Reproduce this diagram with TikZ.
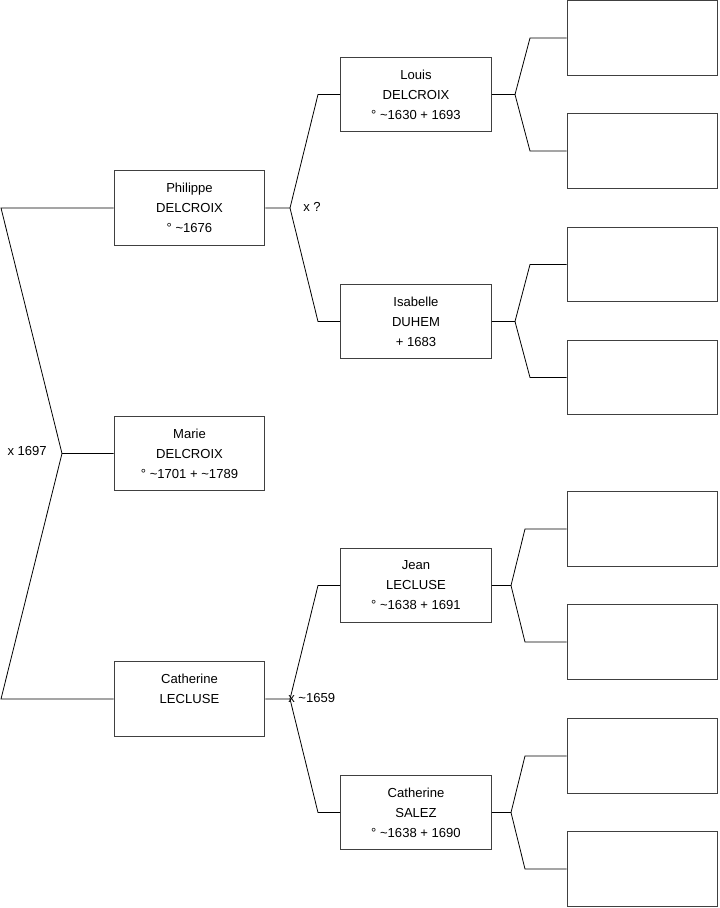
\documentclass[tikz,border=0pt]{standalone}
\usepackage{fontspec}
\setmainfont{Liberation Sans}
\usetikzlibrary{positioning}

\begin{document}
\begin{tikzpicture}[
    x=0.75pt, y=-0.75pt,
    person/.style={rectangle, draw=black!75, line width=0.8pt, fill=white, minimum width=113pt, minimum height=56pt, font=\fontsize{9.8}{15}\selectfont, align=center, inner sep=0pt},
    ancestor/.style={rectangle, draw=black!75, line width=0.8pt, fill=white, minimum width=113pt, minimum height=56pt},
    union/.style={font=\fontsize{9.8}{11}\selectfont, inner sep=0pt},
    link/.style={draw=black, line width=0.6pt}
]

% Page frame
\useasboundingbox[fill=white] (0,0) rectangle (719,908);

% Generation 1
\node[person] (marie)    at (189.5,453.5) {Marie\\DELCROIX\\° \textasciitilde 1701 + \textasciitilde 1789};

% Generation 2
\node[person] (philippe) at (189.5,208)   {Philippe\\DELCROIX\\° \textasciitilde 1676};
\node[person] (cathl)    at (189.5,699)   {Catherine\\LECLUSE\\\mbox{}};

% Generation 3
\node[person] (louis)    at (416,94.5)    {Louis\\DELCROIX\\° \textasciitilde 1630 + 1693};
\node[person] (isabelle) at (416,321.5)   {Isabelle\\DUHEM\\+ 1683};
\node[person] (jean)     at (416,585.5)   {Jean\\LECLUSE\\° \textasciitilde 1638 + 1691};
\node[person] (caths)    at (416,812.5)   {Catherine\\SALEZ\\° \textasciitilde 1638 + 1690};

% Generation 4 (unknown)
\node[ancestor] (anc1) at (642.5,38)    {};
\node[ancestor] (anc2) at (642.5,151)   {};
\node[ancestor] (anc3) at (642.5,264.5) {};
\node[ancestor] (anc4) at (642.5,377.5) {};
\node[ancestor] (anc5) at (642.5,529)   {};
\node[ancestor] (anc6) at (642.5,642)   {};
\node[ancestor] (anc7) at (642.5,756)   {};
\node[ancestor] (anc8) at (642.5,869)   {};

% Fork points
\coordinate (forkm)  at (62,453.5);
\coordinate (forkp)  at (290,208);
\coordinate (forkc)  at (290,699);
\coordinate (forkl)  at (515,94.5);
\coordinate (forki)  at (515,321.5);
\coordinate (forkj)  at (511,585.5);
\coordinate (forks)  at (511,812.5);

% Marriage labels
\node[union, anchor=east] (mar1) at (47,451)  {x 1697};
\node[union, anchor=west] (mar2) at (303,207) {x ?};
\node[union, anchor=west] (mar3) at (288,698) {x \textasciitilde 1659};

% Connections - Marie
\draw[link] (marie.west) -- (forkm) -- (1,208) -- (philippe.west);
\draw[link] (forkm) -- (1,699) -- (cathl.west);

% Connections - Philippe
\draw[link] (philippe.east) -- (forkp) -- (318,94.5) -- (louis.west);
\draw[link] (forkp) -- (318,321.5) -- (isabelle.west);

% Connections - Catherine
\draw[link] (cathl.east) -- (forkc) -- (318,585.5) -- (jean.west);
\draw[link] (forkc) -- (318,812.5) -- (caths.west);

% Connections - generation 3 to 4
\draw[link] (louis.east) -- (forkl) -- (530,38) -- (anc1.west);
\draw[link] (forkl) -- (530,151) -- (anc2.west);
\draw[link] (isabelle.east) -- (forki) -- (530,264.5) -- (anc3.west);
\draw[link] (forki) -- (530,377.5) -- (anc4.west);
\draw[link] (jean.east) -- (forkj) -- (525,529) -- (anc5.west);
\draw[link] (forkj) -- (525,642) -- (anc6.west);
\draw[link] (caths.east) -- (forks) -- (525,756) -- (anc7.west);
\draw[link] (forks) -- (525,869) -- (anc8.west);

\end{tikzpicture}
\end{document}
